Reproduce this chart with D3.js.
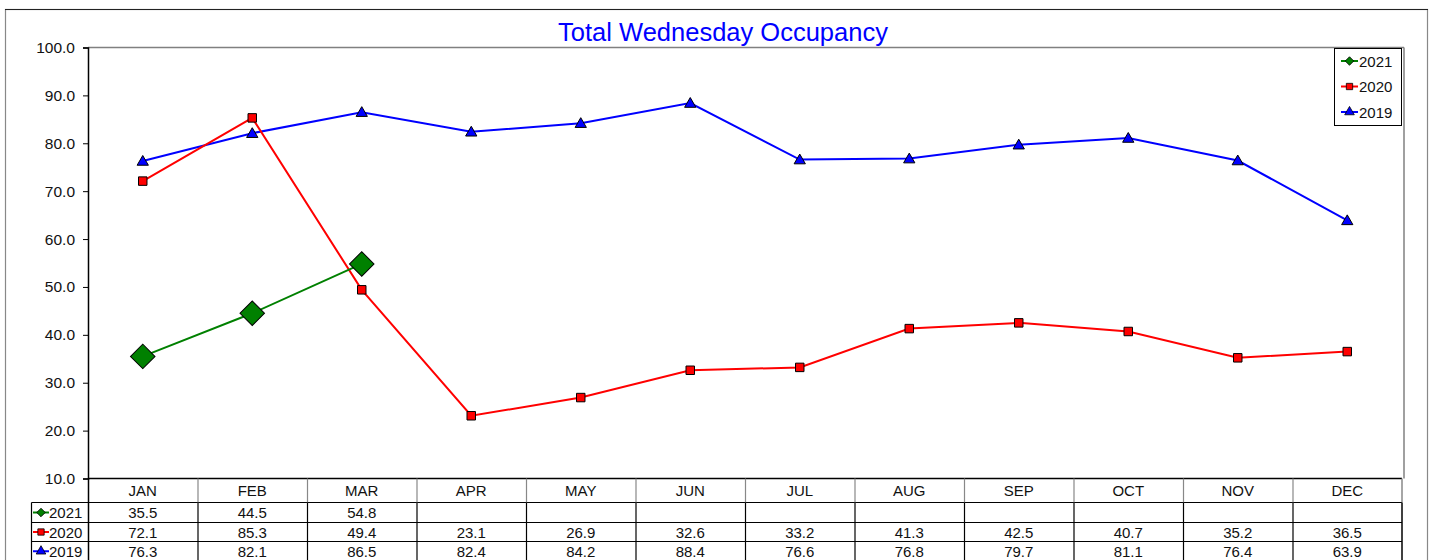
<!DOCTYPE html>
<html>
<head>
<meta charset="utf-8">
<script src="https://cdn.jsdelivr.net/npm/d3@7"></script>
<style>
  html, body { margin: 0; padding: 0; background: #fff; }
  svg { display: block; font-family: "Liberation Sans", Arial, sans-serif; }
</style>
</head>
<body>
<svg id="chart" width="1432" height="560"></svg>
<script>
// Monthly Wednesday occupancy (%) by year
const months = ["JAN","FEB","MAR","APR","MAY","JUN","JUL","AUG","SEP","OCT","NOV","DEC"];
const values2021 = [35.5, 44.5, 54.8, null, null, null, null, null, null, null, null, null];
const values2020 = [72.1, 85.3, 49.4, 23.1, 26.9, 32.6, 33.2, 41.3, 42.5, 40.7, 35.2, 36.5];
const values2019 = [76.3, 82.1, 86.5, 82.4, 84.2, 88.4, 76.6, 76.8, 79.7, 81.1, 76.4, 63.9];
const yTicks = [10, 20, 30, 40, 50, 60, 70, 80, 90, 100];

const series = [
  { name: "2021", values: values2021, color: "#008000", shape: "diamond" },
  { name: "2020", values: values2020, color: "#FF0000", shape: "square" },
  { name: "2019", values: values2019, color: "#0000FF", shape: "triangle" }
];

const svg = d3.select("#chart");
const plot = { left: 88, right: 1402, top: 47.5, bottom: 478.5 };

const x = d3.scaleBand().domain(months).range([plot.left, plot.right]).padding(0);
const xc = m => x(m) + x.bandwidth() / 2;
const y = d3.scaleLinear().domain([10, 100]).range([plot.bottom, plot.top]);

// outer frame
svg.append("rect").attr("x", 5.5).attr("y", 9.5).attr("width", 1422).attr("height", 560)
  .attr("fill", "none").attr("stroke", "#888").attr("stroke-width", 1.2);
svg.append("line").attr("x1", 5).attr("x2", 1428).attr("y1", 9.5).attr("y2", 9.5)
  .attr("stroke", "#222").attr("stroke-width", 1);

// title
svg.append("text").attr("x", 723).attr("y", 41).attr("text-anchor", "middle")
  .attr("font-size", 25.5).attr("fill", "#0000FF").text("Total Wednesday Occupancy");

// plot frame: top and right grey
svg.append("line").attr("x1", plot.left).attr("x2", plot.right + 2).attr("y1", plot.top).attr("y2", plot.top)
  .attr("stroke", "#808080").attr("stroke-width", 1.5);
svg.append("line").attr("x1", plot.right + 2).attr("x2", plot.right + 2).attr("y1", plot.top).attr("y2", plot.bottom)
  .attr("stroke", "#808080").attr("stroke-width", 1.5);

// y axis
const yAxis = d3.axisLeft(y).tickValues(yTicks).tickFormat(d3.format(".1f")).tickSize(5).tickPadding(8);
const gy = svg.append("g").attr("transform", `translate(${plot.left},0)`).call(yAxis);
gy.select(".domain").attr("stroke", "#000").attr("stroke-width", 1.5);
gy.selectAll(".tick line").attr("stroke", "#000");
gy.selectAll(".tick text").attr("font-size", 15.5).attr("fill", "#111")
  .attr("font-family", "Liberation Sans, Arial, sans-serif");

// symbol generators
const symbolFor = {
  diamond: d3.symbol().type(d3.symbolSquare).size(300),
  square: d3.symbol().type(d3.symbolSquare).size(72),
  triangle: d3.symbol().type(d3.symbolTriangle).size(55)
};
const rotFor = { diamond: 45, square: 0, triangle: 0 };

// lines and markers (draw 2019 first so 2021 sits on top)
const line = d3.line().defined(d => d.v != null).x(d => xc(d.m)).y(d => y(d.v));
series.slice().reverse().forEach(s => {
  const pts = months.map((m, i) => ({ m, v: s.values[i] }));
  svg.append("path").datum(pts).attr("d", line)
    .attr("fill", "none").attr("stroke", s.color).attr("stroke-width", 2);
  svg.append("g").selectAll("path").data(pts.filter(d => d.v != null)).join("path")
    .attr("d", symbolFor[s.shape])
    .attr("transform", d => `translate(${xc(d.m)},${y(d.v) + (s.shape === "triangle" ? 1 : 0)}) rotate(${rotFor[s.shape]})`)
    .attr("fill", s.color).attr("stroke", "#000").attr("stroke-width", 1);
});

// legend
const lg = svg.append("g");
lg.append("rect").attr("x", 1334.5).attr("y", 48.5).attr("width", 67).attr("height", 77)
  .attr("fill", "#fff").attr("stroke", "#000").attr("stroke-width", 1);
const legendSym = {
  diamond: d3.symbol().type(d3.symbolSquare).size(36),
  square: d3.symbol().type(d3.symbolSquare).size(40),
  triangle: d3.symbol().type(d3.symbolTriangle).size(40)
};
series.forEach((s, i) => {
  const cy = 61 + i * 25.5;
  lg.append("line").attr("x1", 1341).attr("x2", 1358).attr("y1", cy).attr("y2", cy)
    .attr("stroke", s.color).attr("stroke-width", 2);
  lg.append("path").attr("d", legendSym[s.shape])
    .attr("transform", `translate(1349.5,${cy}) rotate(${rotFor[s.shape]})`)
    .attr("fill", s.color).attr("stroke", "#000").attr("stroke-width", 0.8);
  lg.append("text").attr("x", 1359).attr("y", cy + 5.5).attr("font-size", 15).attr("fill", "#111").text(s.name);
});

// data table
const rowTops = [478.5, 502.5, 522.5, 541.5, 561];
const labelLeft = 31.5;
const tbl = svg.append("g");
// header row (month names)
tbl.selectAll("text.hdr").data(months).join("text").attr("class", "hdr")
  .attr("x", m => xc(m)).attr("y", 496).attr("text-anchor", "middle")
  .attr("font-size", 15).attr("fill", "#111").text(m => m);
// horizontal rules
tbl.append("line").attr("x1", plot.left).attr("x2", plot.right).attr("y1", rowTops[0]).attr("y2", rowTops[0])
  .attr("stroke", "#000").attr("stroke-width", 1.5);
[1, 2, 3].forEach(r => {
  tbl.append("line").attr("x1", labelLeft).attr("x2", plot.right).attr("y1", rowTops[r]).attr("y2", rowTops[r])
    .attr("stroke", "#000").attr("stroke-width", 1.2);
});
// vertical rules: grey in header, black in data rows
months.forEach((m, i) => {
  if (i === 0) return;
  tbl.append("line").attr("x1", x(m) + 0.5).attr("x2", x(m) + 0.5).attr("y1", rowTops[0]).attr("y2", rowTops[1])
    .attr("stroke", "#888").attr("stroke-width", 1.2);
  tbl.append("line").attr("x1", x(m) + 0.5).attr("x2", x(m) + 0.5).attr("y1", rowTops[1]).attr("y2", rowTops[4])
    .attr("stroke", "#000").attr("stroke-width", 1.2);
});
tbl.append("line").attr("x1", labelLeft).attr("x2", labelLeft).attr("y1", rowTops[1]).attr("y2", rowTops[4])
  .attr("stroke", "#000").attr("stroke-width", 1.2);
tbl.append("line").attr("x1", plot.left + 0.5).attr("x2", plot.left + 0.5).attr("y1", rowTops[0]).attr("y2", rowTops[4])
  .attr("stroke", "#000").attr("stroke-width", 1.5);
tbl.append("line").attr("x1", plot.right).attr("x2", plot.right).attr("y1", rowTops[0]).attr("y2", rowTops[1])
  .attr("stroke", "#888").attr("stroke-width", 1.5);
tbl.append("line").attr("x1", plot.right).attr("x2", plot.right).attr("y1", rowTops[1]).attr("y2", rowTops[4])
  .attr("stroke", "#000").attr("stroke-width", 1.5);

// row labels and values
series.forEach((s, r) => {
  const top = rowTops[r + 1], bot = rowTops[r + 2];
  const cy = (top + bot) / 2;
  tbl.append("line").attr("x1", 33).attr("x2", 49).attr("y1", cy).attr("y2", cy)
    .attr("stroke", s.color).attr("stroke-width", 2);
  tbl.append("path").attr("d", legendSym[s.shape])
    .attr("transform", `translate(41,${cy}) rotate(${rotFor[s.shape]})`)
    .attr("fill", s.color).attr("stroke", "#000").attr("stroke-width", 0.8);
  tbl.append("text").attr("x", 49).attr("y", cy + 5.5).attr("font-size", 15).attr("fill", "#111").text(s.name);
  tbl.selectAll(null).data(months.map((m, i) => ({ m, v: s.values[i] })).filter(d => d.v != null))
    .join("text").attr("x", d => xc(d.m)).attr("y", cy + 5.5).attr("text-anchor", "middle")
    .attr("font-size", 15).attr("fill", "#111").text(d => d3.format(".1f")(d.v));
});
</script>
</body>
</html>
